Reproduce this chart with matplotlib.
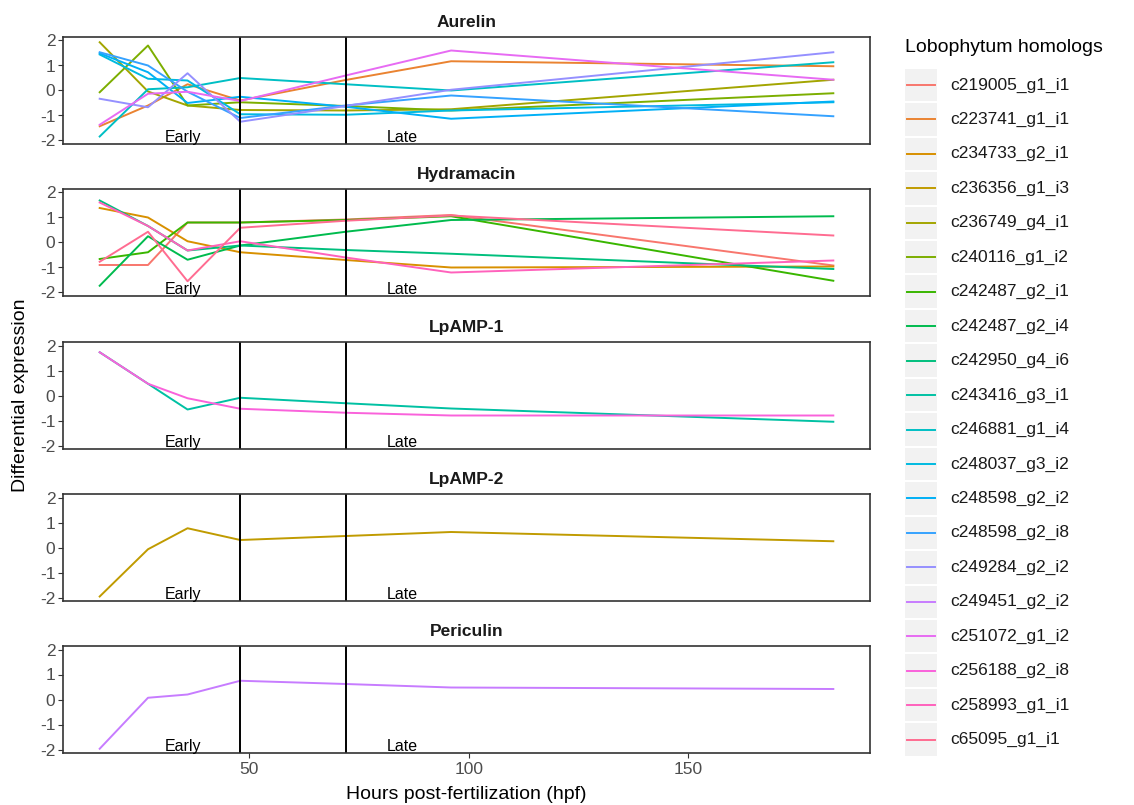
import matplotlib
matplotlib.use("Agg")
import matplotlib.pyplot as plt
from matplotlib.patches import Rectangle
from matplotlib.lines import Line2D

plt.rcParams['font.family'] = ['Liberation Sans', 'DejaVu Sans']
plt.rcParams['axes.unicode_minus'] = False

# ---------------- data ----------------
hours = [16, 27, 36, 48, 72, 96, 183]

genes = ["c219005_g1_i1", "c223741_g1_i1", "c234733_g2_i1", "c236356_g1_i3",
         "c236749_g4_i1", "c240116_g1_i2", "c242487_g2_i1", "c242487_g2_i4",
         "c242950_g4_i6", "c243416_g3_i1", "c246881_g1_i4", "c248037_g3_i2",
         "c248598_g2_i2", "c248598_g2_i8", "c249284_g2_i2", "c249451_g2_i2",
         "c251072_g1_i2", "c256188_g2_i8", "c258993_g1_i1", "c65095_g1_i1"]

panels = ["Aurelin", "Hydramacin", "LpAMP-1", "LpAMP-2", "Periculin"]

aurelin_genes = ["c223741_g1_i1", "c236749_g4_i1", "c240116_g1_i2", "c246881_g1_i4",
                 "c248037_g3_i2", "c248598_g2_i2", "c248598_g2_i8", "c249284_g2_i2",
                 "c251072_g1_i2"]
aurelin_values = [
    [-1.43, -0.60, 0.25, -0.40, 0.42, 1.17, 0.97],
    [1.93, -0.04, -0.60, -0.78, -0.80, -0.75, 0.43],
    [-0.07, 1.80, -0.60, -0.47, -0.62, -0.80, -0.11],
    [-1.84, 0.05, 0.13, 0.50, 0.25, 0.00, 1.13],
    [1.44, 0.47, 0.40, -0.95, -0.97, -0.80, -0.47],
    [1.49, 0.73, -0.50, -0.25, -0.65, -1.13, -0.44],
    [1.53, 1.00, -0.05, -1.10, -0.60, -0.20, -1.03],
    [-0.33, -0.67, 0.69, -1.25, -0.62, 0.03, 1.53],
    [-1.37, -0.13, -0.05, -0.42, 0.60, 1.60, 0.43],
]

hydramacin_genes = ["c219005_g1_i1", "c234733_g2_i1", "c242487_g2_i1", "c242487_g2_i4",
                    "c242950_g4_i6", "c258993_g1_i1", "c65095_g1_i1"]
hydramacin_values = [
    [-0.90, -0.90, 0.80, 0.80, 0.92, 1.10, -0.92],
    [1.38, 1.00, 0.05, -0.39, -0.70, -1.00, -0.96],
    [-0.66, -0.39, 0.80, 0.80, 0.90, 1.05, -1.53],
    [-1.73, 0.25, -0.69, -0.12, 0.43, 0.90, 1.05],
    [1.68, 0.66, -0.32, -0.12, -0.30, -0.45, -1.06],
    [1.60, 0.66, -0.32, 0.05, -0.60, -1.20, -0.72],
    [-0.77, 0.43, -1.55, 0.59, 0.87, 1.08, 0.28],
]

lpamp1_genes = ["c243416_g3_i1", "c256188_g2_i8"]
lpamp1_values = [
    [1.73, 0.47, -0.56, -0.09, -0.31, -0.52, -1.05],
    [1.73, 0.47, -0.11, -0.53, -0.69, -0.80, -0.80],
]

lpamp2_genes = ["c236356_g1_i3"]
lpamp2_values = [
    [-1.96, -0.07, 0.77, 0.30, 0.46, 0.62, 0.25],
]

periculin_genes = ["c249451_g2_i2"]
periculin_values = [
    [-1.97, 0.07, 0.20, 0.75, 0.62, 0.48, 0.42],
]

stage_labels = ["Early", "Late"]
stage_x = [35, 85]
stage_bounds = [48, 72]

# ---------------- style ----------------
hue_colors = ["#F8766D", "#EA8331", "#D89000", "#C09B00", "#A3A500", "#7CAE00",
              "#39B600", "#00BB4E", "#00BF7D", "#00C1A3", "#00BFC4", "#00BAE0",
              "#00B0F6", "#35A2FF", "#9590FF", "#C77CFF", "#E76BF3", "#FA62DB",
              "#FF62BC", "#FF6C91"]
color_of = dict(zip(genes, hue_colors))

W, H = 1134, 805
fig = plt.figure(figsize=(W / 100, H / 100), dpi=100)

# overlay axes in pixel coordinates for legend & labels
ov = fig.add_axes([0, 0, 1, 1])
ov.set_xlim(0, W)
ov.set_ylim(H, 0)
ov.axis('off')
ov.patch.set_alpha(0)

left_px, right_px = 63, 870
panel_tops = [37, 189, 342, 494, 646]
panel_h = 107

panel_data = [(aurelin_genes, aurelin_values), (hydramacin_genes, hydramacin_values),
              (lpamp1_genes, lpamp1_values), (lpamp2_genes, lpamp2_values),
              (periculin_genes, periculin_values)]

xr = hours[-1] - hours[0]
xlim = (hours[0] - 0.05 * xr, hours[-1] + 0.05 * xr)

for i, (name, (gl, vals)) in enumerate(zip(panels, panel_data)):
    top = panel_tops[i]
    ax = fig.add_axes([left_px / W, 1 - (top + panel_h) / H,
                       (right_px - left_px) / W, panel_h / H])
    for g, v in zip(gl, vals):
        ax.plot(hours, v, color=color_of[g], lw=1.4, solid_joinstyle='round')
    for b in stage_bounds:
        ax.axvline(b, color='black', lw=1.4)
    for lab, sx in zip(stage_labels, stage_x):
        ax.text(sx, -2.06, lab, ha='center', va='baseline', fontsize=11.5, color='black')
    ax.set_xlim(*xlim)
    ax.set_ylim(-2.14, 2.14)
    ax.set_yticks([-2, -1, 0, 1, 2])
    ax.set_yticklabels(['-2', '-1', '0', '1', '2'])
    ax.set_xticks([50, 100, 150])
    ax.tick_params(axis='y', length=3.5, width=0.8, color='#333333',
                   labelsize=12.5, labelcolor='#4D4D4D', pad=2)
    if i == len(panels) - 1:
        ax.tick_params(axis='x', length=3.5, width=0.8, color='#333333',
                       labelsize=12.5, labelcolor='#4D4D4D', pad=3)
    else:
        ax.tick_params(axis='x', length=0, labelbottom=False)
    for s in ax.spines.values():
        s.set_color('#333333')
        s.set_linewidth(1.2)
    ax.set_title(name, fontsize=12.5, fontweight='bold', color='#1A1A1A', pad=7)

# axis titles
ov.text((left_px + right_px) / 2, 794, "Hours post-fertilization (hpf)", ha='center',
        va='center', fontsize=14, color='black')
ov.text(21, (panel_tops[0] + panel_tops[-1] + panel_h) / 2, "Differential expression",
        ha='center', va='center', rotation=90, fontsize=14, color='black')

# legend
ov.text(905, 48, "Lobophytum homologs", ha='left', va='center', fontsize=14, color='black')
first_y, step = 85, 34.45
for k, g in enumerate(genes):
    cy = first_y + k * step
    ov.add_patch(Rectangle((905, cy - step / 2 + 1), 32, step - 2,
                           facecolor='#F2F2F2', edgecolor='none'))
    ov.add_line(Line2D([907, 935], [cy, cy], color=color_of[g], lw=1.4))
    ov.text(950, cy, g, ha='left', va='center', fontsize=12.5, color='#1A1A1A')

fig.savefig("out.png", dpi=100)
